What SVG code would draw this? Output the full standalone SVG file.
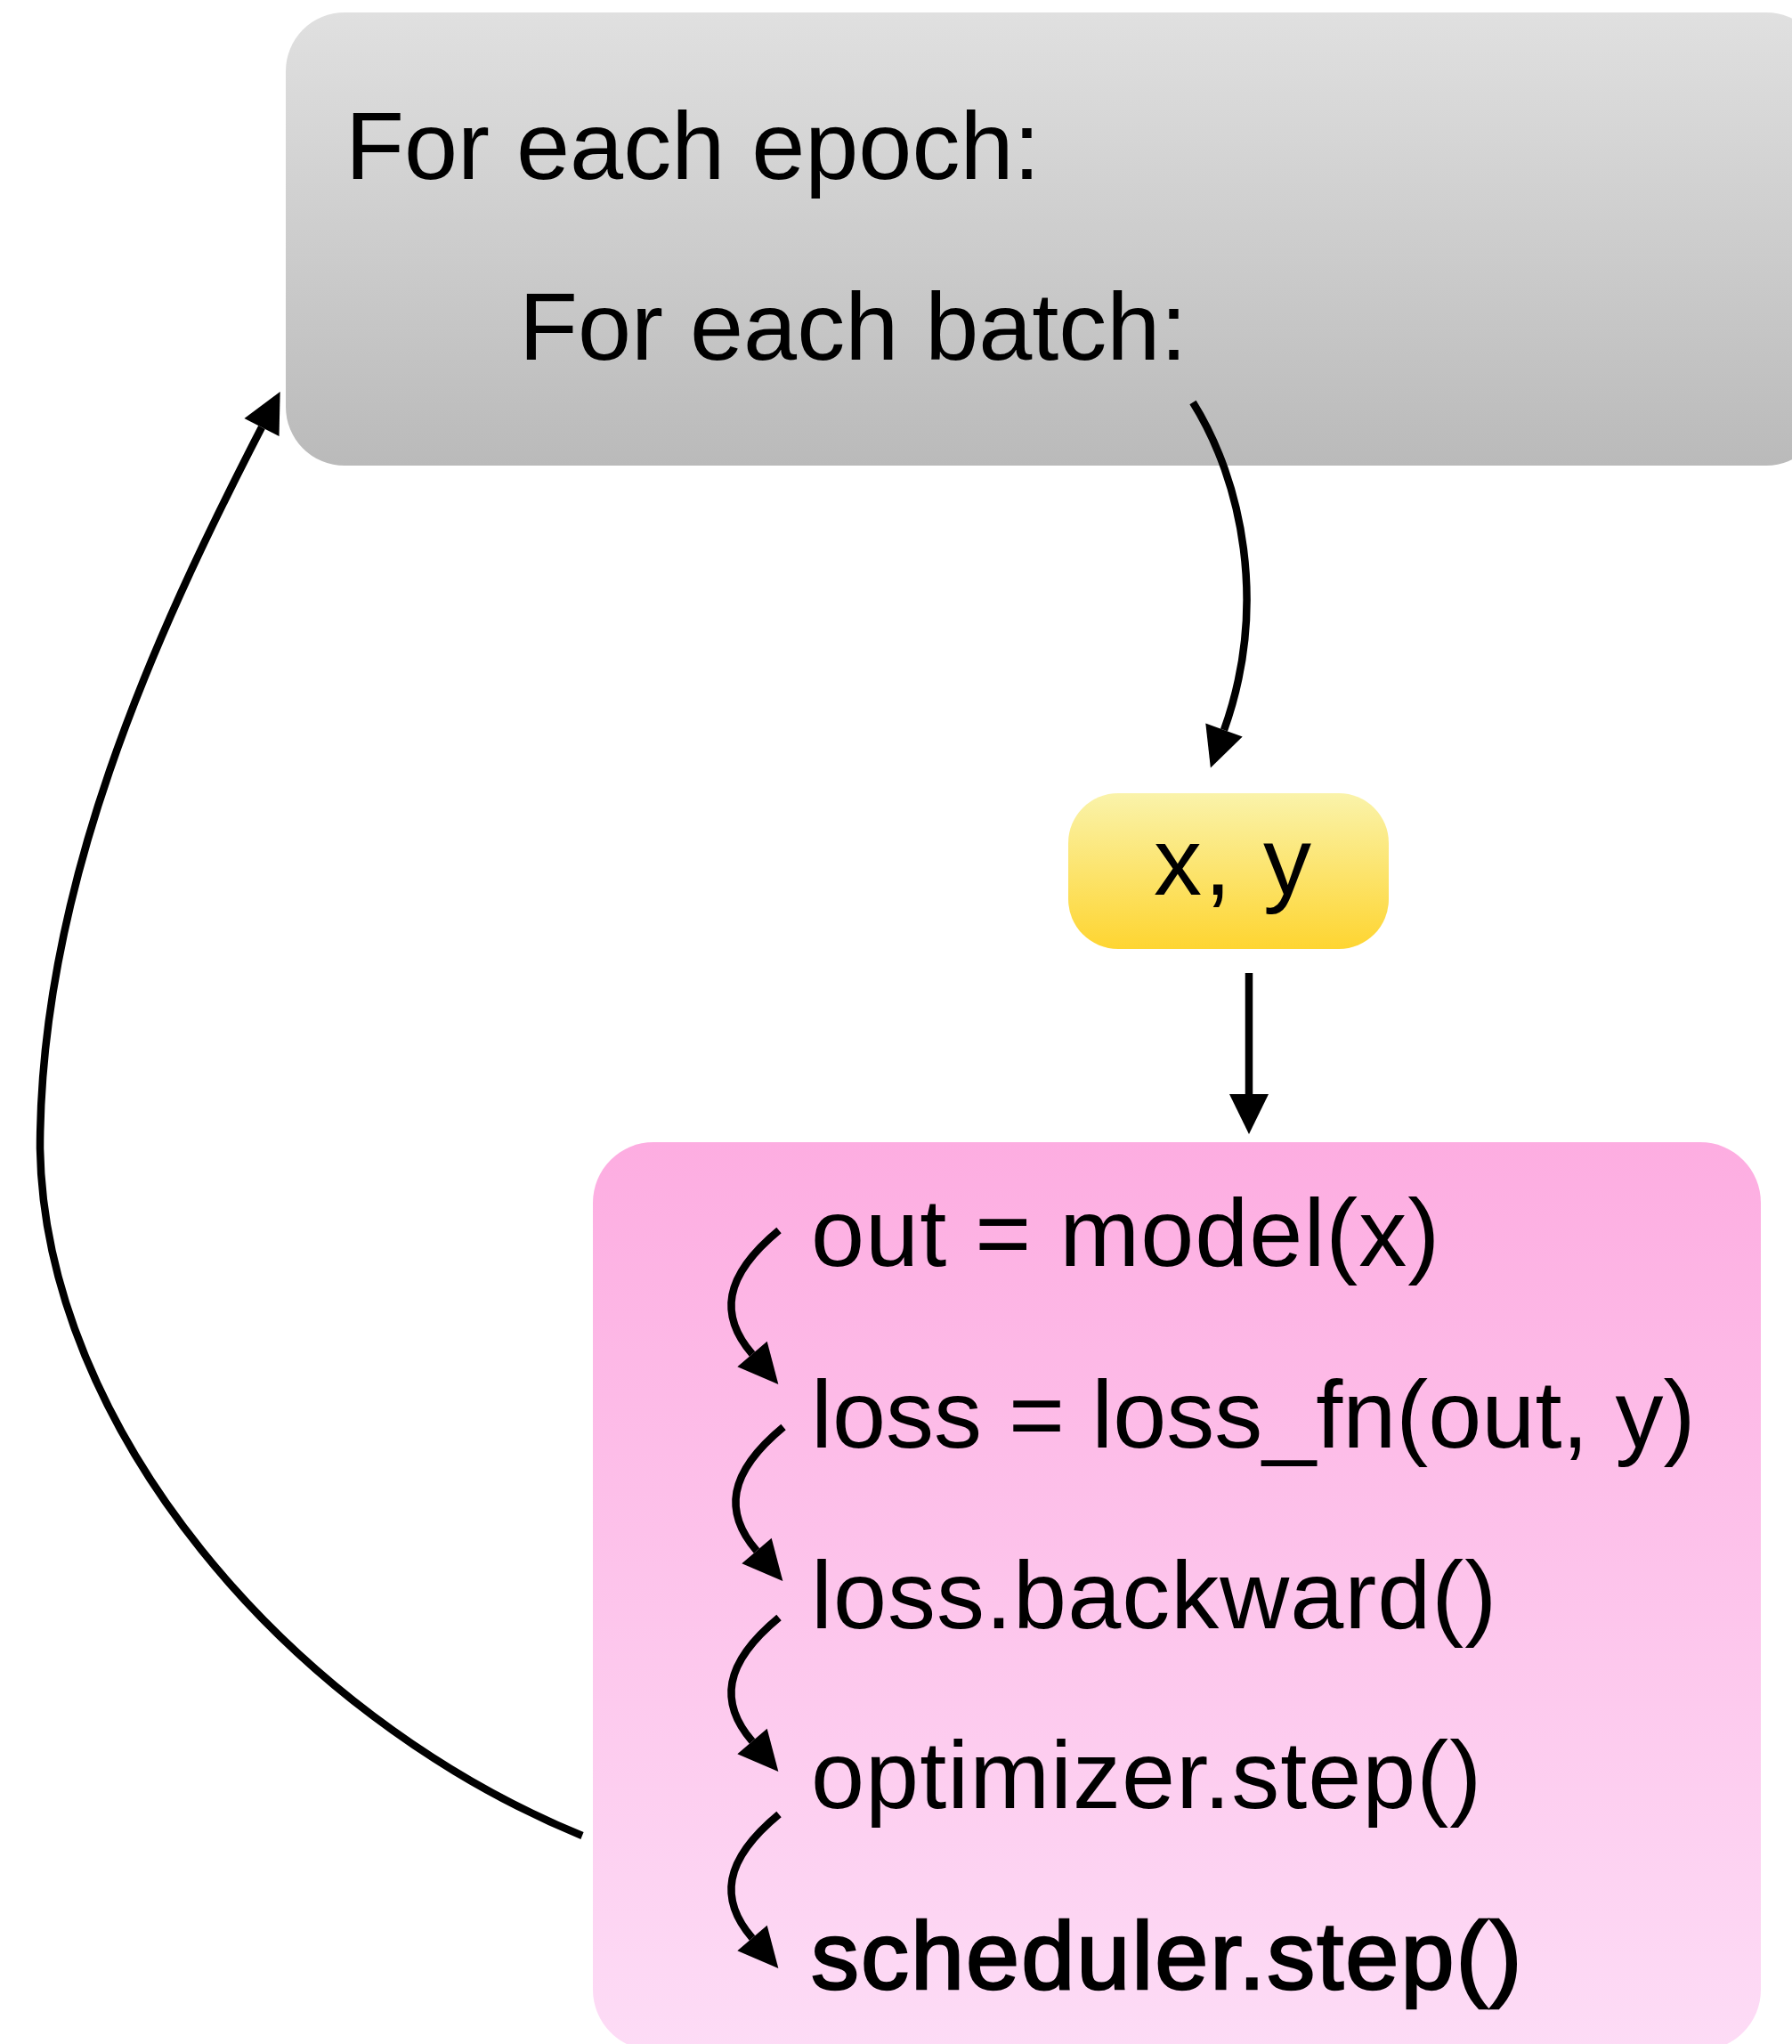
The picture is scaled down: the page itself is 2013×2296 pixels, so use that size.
<svg xmlns="http://www.w3.org/2000/svg" width="2013" height="2296" viewBox="0 0 2013 2296">
  <defs>
    <linearGradient id="gGray" x1="0" y1="0" x2="0" y2="1">
      <stop offset="0" stop-color="#E0E0E0"/>
      <stop offset="1" stop-color="#BABABA"/>
    </linearGradient>
    <linearGradient id="gYellow" x1="0" y1="0" x2="0" y2="1">
      <stop offset="0" stop-color="#FAF3AA"/>
      <stop offset="1" stop-color="#FED531"/>
    </linearGradient>
    <linearGradient id="gPink" x1="0" y1="0" x2="0" y2="1">
      <stop offset="0" stop-color="#FDADE1"/>
      <stop offset="1" stop-color="#FDDCF6"/>
    </linearGradient>
    <marker id="ah" markerUnits="userSpaceOnUse" markerWidth="46" markerHeight="46" refX="0" refY="22" orient="auto" overflow="visible">
      <path d="M0,0 L45,22 L0,44 z" fill="#000"/>
    </marker>
  </defs>
  <style>
    .t { font-family: "Liberation Sans", Arial, sans-serif; font-size: 108px; fill: #000; }
    .conn { fill: none; stroke: #000; stroke-width: 8.5; marker-end: url(#ah); }
  </style>
  <rect width="2013" height="2296" fill="#FFFFFF"/>

  <g id="loops">
    <rect x="321" y="14" width="1729" height="509" rx="66" ry="66" fill="url(#gGray)"/>
    <text class="t" x="388" y="201" font-size="110">For each epoch:</text>
    <text class="t" x="583" y="404" font-size="110">For each batch:</text>
  </g>

  <g id="batch">
    <rect x="1200" y="891" width="360" height="175" rx="56" ry="56" fill="url(#gYellow)"/>
    <text class="t" x="1386" y="1005" text-anchor="middle" font-size="105" letter-spacing="3">x, y</text>
  </g>

  <g id="step">
    <rect x="666" y="1283" width="1312" height="1020" rx="68" ry="68" fill="url(#gPink)"/>
    <text class="t" x="911" y="1422" letter-spacing="1">out = model(x)</text>
    <text class="t" x="911" y="1626">loss = loss_fn(out, y)</text>
    <text class="t" x="911" y="1829" letter-spacing="1">loss.backward()</text>
    <text class="t" x="911" y="2031" letter-spacing="1">optimizer.step()</text>
    <text class="t" x="911" y="2234" stroke="#000" stroke-width="2.5" letter-spacing="2">scheduler.step()</text>
  </g>

  <g id="connectors">
    <path class="conn" d="M1340,452 C1395,540 1425,680 1375,820"/>
    <path class="conn" d="M1403,1093 L1403,1229"/>
    <path class="conn" d="M654,2062 C320,1925 50,1600 45,1290 C45,1000 170,720 294,480"/>
    <path class="conn" d="M875,1382 C812,1434 808,1478 845,1521"/>
    <path class="conn" d="M880,1603 C817,1655 813,1699 850,1742"/>
    <path class="conn" d="M875,1817 C812,1869 808,1913 845,1956"/>
    <path class="conn" d="M875,2038 C812,2090 808,2134 845,2177"/>
  </g>
</svg>
